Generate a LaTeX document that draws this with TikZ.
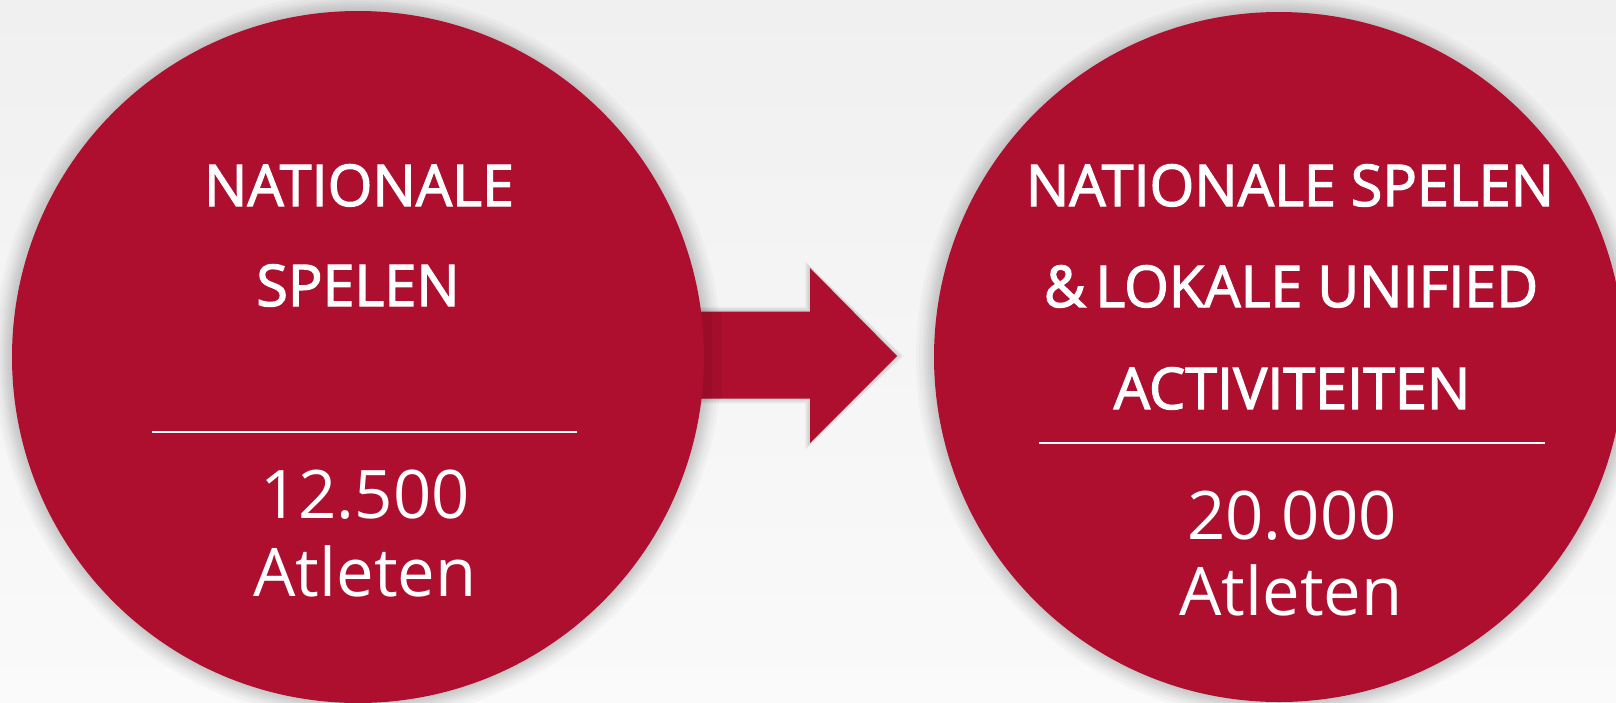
\documentclass[tikz,border=0pt]{standalone}
\usepackage{fontspec}
\setmainfont{Open Sans}
\newfontfamily\capsfont{Open Sans}[FakeBold=2.2]
\definecolor{brand}{HTML}{AE0F2E}
\definecolor{bgtop}{HTML}{F1F0F1}
\definecolor{bgbot}{HTML}{FBFAFB}
\tikzset{
  disc/.style={fill=brand},
  caps/.style={text=white, anchor=base, inner sep=0pt, font=\capsfont\fontsize{57.5}{60}\selectfont},
  num/.style={text=white, anchor=base, inner sep=0pt, font=\fontsize{67}{72}\selectfont},
  rule/.style={draw=white, line width=2pt},
  arrowbody/.style={fill=brand}
}
\begin{document}
\begin{tikzpicture}[x=1pt,y=-1pt]
\useasboundingbox (0,0) rectangle (1616,702);
\shade[top color=bgtop, bottom color=bgbot] (0,0) rectangle (1616,702);
% soft shadows
\foreach \r in {18,15,12,10,8,6,4,2}{
  \fill[black, opacity=0.022] (358,357) circle (346+\r);
  \fill[black, opacity=0.022] (1279,357) circle (345+\r);
}
\foreach \d in {5,4,3,2,1}{
  \fill[black, opacity=0.03] (700,{311.5-\d}) -- ({810-\d},{311.5-\d}) -- ({810-\d},{268-1.4*\d}) -- ({897+1.4*\d},356) -- ({810-\d},{443+1.4*\d}) -- ({810-\d},{398.5+\d}) -- (700,{398.5+\d}) -- cycle;
}
% arrow
\fill[arrowbody] (680,311.5) -- (810,311.5) -- (810,268) -- (897,356) -- (810,443) -- (810,398.5) -- (680,398.5) -- cycle;
\fill[black, opacity=0.06] (690,311.5) rectangle (722,398.5);
\fill[black, opacity=0.05] (690,311.5) rectangle (712,398.5);
% circles
\node[disc, circle, minimum size=692pt, inner sep=0pt] (left) at (358,357) {};
\node[disc, circle, minimum size=690pt, inner sep=0pt] (right) at (1279,357) {};
% left texts
\node[caps] (l1) at (359,206) {NATIONALE};
\node[caps] (l2) at (358,306) {SPELEN};
\coordinate (la) at (151.5,432);
\coordinate (lb) at (577,432);
\draw[rule] (la) -- (lb);
\node[num] (l3) at (365,518) {12.500};
\node[num] (l4) at (365,596) {Atleten};
% right texts
\node[caps] (r1) at (1290,206) {NATIONALE SPELEN};
\node[caps] (r2) at (1291,307) {\&\,LOKALE UNIFIED};
\node[caps] (r3) at (1292,409) {ACTIVITEITEN};
\coordinate (ra) at (1039,443);
\coordinate (rb) at (1545,443);
\draw[rule] (ra) -- (rb);
\node[num] (r4) at (1292,539) {20.000};
\node[num] (r5) at (1291,615) {Atleten};
\end{tikzpicture}
\end{document}
